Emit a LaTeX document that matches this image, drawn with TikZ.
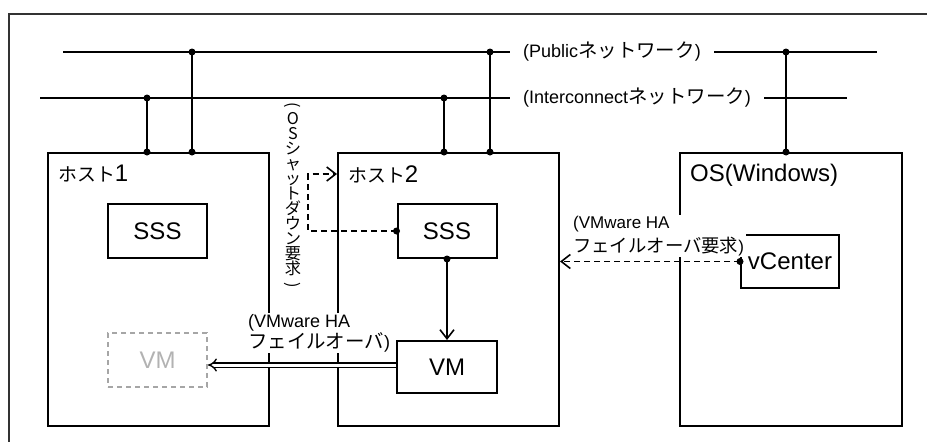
\documentclass[tikz,border=0pt]{standalone}
\usepackage{fontspec}
\setmainfont{Liberation Sans}
\newfontfamily\jp[Scale=1.08]{Noto Sans CJK JP}
\usetikzlibrary{arrows.meta}
\newcommand{\jtxt}[1]{{\jp #1}}
\newcommand{\jbig}[1]{{\jp\fontsize{17.5}{24}\selectfont #1}}

\begin{document}
\begin{tikzpicture}[x=1pt, y=-1pt,
  every node/.style={font=\fontsize{18}{21}\selectfont},
  net/.style={line width=2pt},
  hostbox/.style={draw, line width=2pt, anchor=north west, minimum width=221pt, minimum height=273pt},
  appbox/.style={draw, line width=2pt, minimum width=99pt, minimum height=54pt, font=\fontsize{24}{28}\selectfont},
  ghostbox/.style={appbox, draw=gray!70, text=gray!60, dashed, dash pattern=on 5pt off 4pt},
  hostlabel/.style={anchor=west, inner sep=0pt, font=\fontsize{24}{28}\selectfont},
  netlabel/.style={anchor=west, fill=white, inner xsep=13pt, inner ysep=2pt},
  note/.style={anchor=west, fill=white, align=left, inner xsep=2pt, inner ysep=1pt},
  call/.style={line width=1.6pt, -{Straight Barb[length=9pt, width=14pt]}},
  req/.style={call, dashed, dash pattern=on 6pt off 4pt},
  failover/.style={double, double distance=3pt, line width=1.4pt, -{Implies[length=9pt, width=16pt]}}]
  \useasboundingbox (0,0) rectangle (927,442);
  \draw[line width=2pt, black!80] (9,442) -- (9,14) -- (927,14);

  \node[hostbox] (host1) at (47,152) {};
  \node[hostbox] (host2) at (337,152) {};
  \node[hostbox, minimum width=222pt] (os) at (679,152) {};
  \node[hostlabel] at (58,174) {\jbig{ホスト}1};
  \node[hostlabel] at (348,174) {\jbig{ホスト}2};
  \node[hostlabel] at (690,175) {OS(Windows)};

  \node[appbox] (sss1) at (157.5,231) {SSS};
  \node[appbox] (sss2) at (447,231) {SSS};
  \node[appbox, minimum width=100pt, minimum height=52pt] (vm2) at (447,367) {VM};
  \node[ghostbox] (vm1) at (157.5,360) {VM};
  \node[appbox, minimum width=98pt, minimum height=53pt] (vcenter) at (790,261.5) {vCenter};

  \coordinate (pubL) at (63,52);
  \coordinate (pubR) at (877,52);
  \coordinate (icL) at (40,98);
  \coordinate (icR) at (847,98);
  \draw[net] (pubL) -- (pubR);
  \draw[net] (icL) -- (icR);
  \foreach \x/\y/\h in {147/98/host1, 192/52/host1, 444/98/host2, 490/52/host2, 786/52/os} {
    \draw[net] (\x,\y) -- (\h.north west -| \x,\y);
    \fill (\x,\y) circle (3.5pt);
    \fill (\h.north west -| \x,\y) circle (3.5pt);
  }
  \node[netlabel] (publbl) at (510,52) {(Public\jtxt{ネットワーク})};
  \node[netlabel] (iclbl) at (510,98) {(Interconnect\jtxt{ネットワーク})};

  \coordinate (sdturn) at (308,174);
  \draw[req] (sss2.west) -| (sdturn) -- (host2.west |- sdturn);
  \fill (sss2.west) circle (3.5pt);
  \node[fill=white, align=center, inner xsep=2pt, inner ysep=2pt, font=\jp\fontsize{15}{15}\selectfont] (sdlbl) at (293,196)
    {\rotatebox[origin=c]{-90}{(}\\O\\S\\シ\\ャ\\ッ\\ト\\ダ\\ウ\\ン\\要\\求\\\rotatebox[origin=c]{-90}{)}};

  \draw[call] (sss2.south) -- (vm2.north);
  \fill (sss2.south) circle (3.5pt);

  \draw[req] (vcenter.west) -- (vcenter.west -| host2.east);
  \fill (vcenter.west) circle (3.5pt);
  \node[note, font=\fontsize{17}{24}\selectfont] (reqlbl) at (571,236) {(VMware HA\\\jtxt{フェイルオーバ要求})};

  \draw[failover] (vm2.west |- 0,365) -- (vm1.east |- 0,365);
  \node[note] (follbl) at (246,333) {(VMware HA\\\jtxt{フェイルオーバ})};
\end{tikzpicture}
\end{document}
